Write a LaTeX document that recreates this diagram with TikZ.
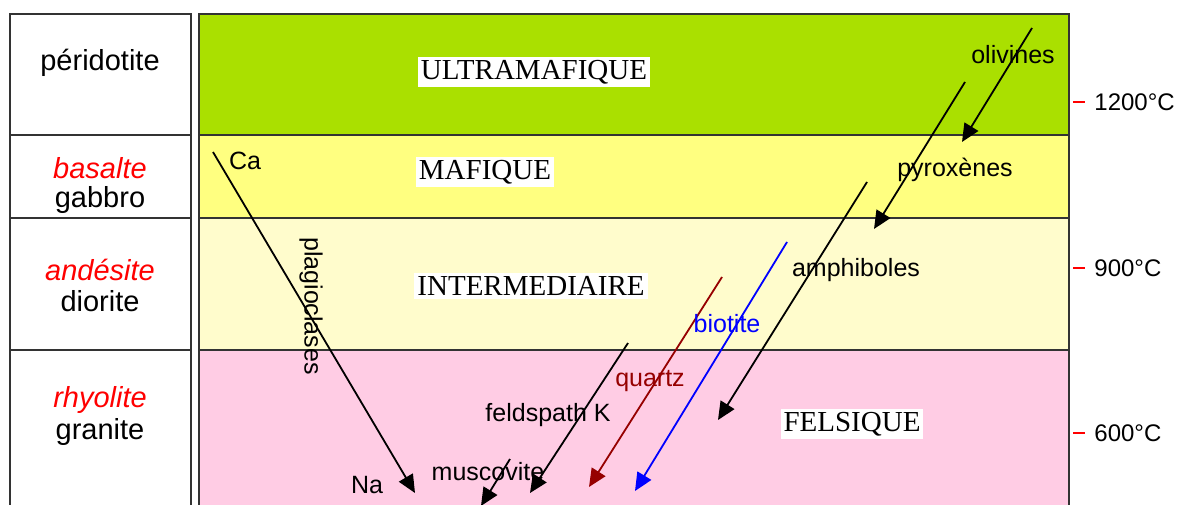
\documentclass[tikz,border=0pt]{standalone}
\usepackage{fontspec}
\setmainfont{Liberation Serif}
\setsansfont{Liberation Sans}
\usetikzlibrary{arrows.meta}
\definecolor{ultragreen}{RGB}{170,224,0}
\definecolor{mafyellow}{RGB}{255,255,128}
\definecolor{interyellow}{RGB}{255,252,204}
\definecolor{felspink}{RGB}{255,204,228}
\definecolor{quartzred}{RGB}{150,0,0}

\begin{document}
\begin{tikzpicture}[x=0.5pt, y=-0.5pt,
    band/.style={draw=black!80, line width=0.8pt},
    rock/.style={font=\sffamily\fontsize{14.5}{16}\selectfont},
    volc/.style={text=red, font=\sffamily\itshape\fontsize{14.5}{16}\selectfont},
    family/.style={fill=white, inner sep=1.5pt, font=\fontsize{14.5}{16}\selectfont},
    mineral/.style={font=\sffamily\fontsize{12.5}{14}\selectfont, inner sep=0pt},
    temp/.style={font=\sffamily\fontsize{12}{14}\selectfont, anchor=west, inner sep=0pt},
    series/.style={-{Triangle[length=9pt,width=8pt]}, line width=0.9pt}]
        \useasboundingbox (0,0) rectangle (1182,504);
        \clip (0,0) rectangle (1182,504);

        % Rock column
        \draw [band] (10,14) rectangle (191,520);
        \draw [band] (10,135) -- (191,135);
        \draw [band] (10,218) -- (191,218);
        \draw [band] (10,350) -- (191,350);
        \node [rock] (peridotite) at (100,63) {péridotite};
        \node [volc] (basalte) at (100,168) {basalte};
        \node [rock] (gabbro) at (100,200) {gabbro};
        \node [volc] (andesite) at (100,270) {andésite};
        \node [rock] (diorite) at (100,301) {diorite};
        \node [volc] (rhyolite) at (100,400) {rhyolite};
        \node [rock] (granite) at (100,432) {granite};

        % Magma bands
        \fill [ultragreen] (199,14) rectangle (1069,135);
        \fill [mafyellow] (199,135) rectangle (1069,218);
        \fill [interyellow] (199,218) rectangle (1069,350);
        \fill [felspink] (199,350) rectangle (1069,520);
        \draw [band] (199,14) rectangle (1069,520);
        \draw [band] (199,135) -- (1069,135);
        \draw [band] (199,218) -- (1069,218);
        \draw [band] (199,350) -- (1069,350);
        \node [family] (ultra) at (534,72) {ULTRAMAFIQUE};
        \node [family] (mafique) at (485,172) {MAFIQUE};
        \node [family] (inter) at (531,286) {INTERMEDIAIRE};
        \node [family] (felsique) at (852,424) {FELSIQUE};

        % Temperatures
        \draw [red, line width=0.6pt] (1073,102) -- (1085,102);
        \draw [red, line width=0.6pt] (1073,268) -- (1085,268);
        \draw [red, line width=0.6pt] (1073,433) -- (1085,433);
        \node [temp] (t1200) at (1094,102) {1200°C};
        \node [temp] (t900) at (1094,268) {900°C};
        \node [temp] (t600) at (1094,433) {600°C};

        % Series end points
        \coordinate (ca) at (213,152);
        \coordinate (na) at (415,493);
        \coordinate (oli1) at (1032,28);
        \coordinate (oli2) at (962,142);
        \coordinate (pyr1) at (965,82);
        \coordinate (pyr2) at (874,229);
        \coordinate (amp1) at (867,182);
        \coordinate (amp2) at (718,420);
        \coordinate (bio1) at (787,242);
        \coordinate (bio2) at (635,491);
        \coordinate (qua1) at (722,277);
        \coordinate (qua2) at (589,487);
        \coordinate (fel1) at (628,343);
        \coordinate (fel2) at (530,493);
        \coordinate (mus1) at (510,459);
        \coordinate (mus2) at (481,506);

        % Arrows
        \draw [series] (ca) -- (na);
        \draw [series] (oli1) -- (oli2);
        \draw [series] (pyr1) -- (pyr2);
        \draw [series] (amp1) -- (amp2);
        \draw [series, blue] (bio1) -- (bio2);
        \draw [series, quartzred] (qua1) -- (qua2);
        \draw [series] (fel1) -- (fel2);
        \draw [series] (mus1) -- (mus2);

        % Mineral labels
        \node [mineral] (calabel) at (245,161) {Ca};
        \node [mineral] (nalabel) at (367,485) {Na};
        \node [mineral, rotate=-90] (plagio) at (311,306) {plagioclases};
        \node [mineral] (olivines) at (1013,55) {olivines};
        \node [mineral] (pyroxenes) at (955,170) {pyroxènes};
        \node [mineral] (amphiboles) at (856,270) {amphiboles};
        \node [mineral, text=blue] (biotite) at (727,324) {biotite};
        \node [mineral, text=quartzred] (quartz) at (650,381) {quartz};
        \node [mineral] (feldspath) at (548,415) {feldspath K};
        \node [mineral] (muscovite) at (488,472) {muscovite};
    \end{tikzpicture}
\end{document}
